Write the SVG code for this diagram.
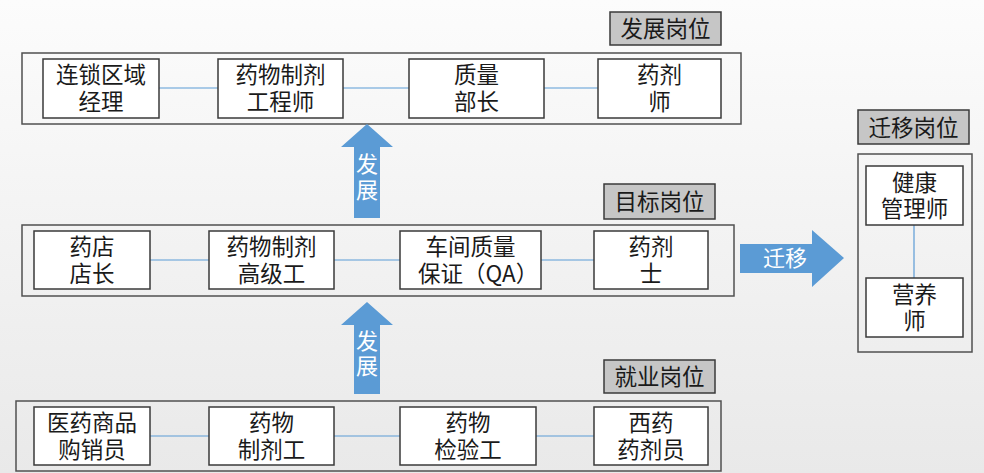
<svg xmlns="http://www.w3.org/2000/svg" width="984" height="473" viewBox="0 0 984 473">
<defs>
<linearGradient id="bg" x1="0" y1="0" x2="0" y2="1">
<stop offset="0" stop-color="#fcfcfc"/>
<stop offset="1" stop-color="#e9e9e9"/>
</linearGradient>
<style>
text{font-family:"Microsoft YaHei","Noto Sans CJK SC","Noto Sans",sans-serif;font-size:22.5px;fill:#1a1a1a;text-anchor:middle}
.box{fill:#ffffff;stroke:#3a3a3a;stroke-width:1.5}
.cont{fill:none;stroke:#505050;stroke-width:1.5}
.lab{fill:#c6c6c6;stroke:#3a3a3a;stroke-width:1.5}
.conn{stroke:#5b9bd5;stroke-width:1.2;fill:none}
.arrow{fill:#5b9bd5}
.at{fill:#ffffff;font-size:22px}
</style>
</defs>
<rect x="0" y="0" width="984" height="473" fill="url(#bg)"/>

<!-- containers and labels -->
<g id="group-fazhan">
<rect class="cont" x="22" y="53" width="719" height="71"/>
<rect class="lab" x="610" y="12" width="111" height="33"/>
<text x="665.5" y="37">发展岗位</text>
</g>
<g id="group-mubiao">
<rect class="cont" x="22" y="225" width="712" height="71"/>
<rect class="lab" x="604" y="184" width="111" height="35"/>
<text x="659.5" y="210">目标岗位</text>
</g>
<g id="group-jiuye">
<rect class="cont" x="16" y="401" width="705" height="70"/>
<rect class="lab" x="604" y="360" width="111" height="33"/>
<text x="659.5" y="385">就业岗位</text>
</g>
<g id="group-qianyi">
<rect class="cont" x="858" y="154" width="114" height="198"/>
<rect class="lab" x="858" y="110" width="111" height="34"/>
<text x="913.5" y="136">迁移岗位</text>
</g>

<!-- connectors -->
<g id="connectors">
<line class="conn" x1="159" y1="88" x2="218" y2="88"/>
<line class="conn" x1="343" y1="88" x2="409" y2="88"/>
<line class="conn" x1="544" y1="88" x2="598" y2="88"/>
<line class="conn" x1="150" y1="260" x2="209" y2="260"/>
<line class="conn" x1="334" y1="260" x2="400" y2="260"/>
<line class="conn" x1="541" y1="260" x2="594" y2="260"/>
<line class="conn" x1="150" y1="436" x2="209" y2="436"/>
<line class="conn" x1="334" y1="436" x2="400" y2="436"/>
<line class="conn" x1="536" y1="436" x2="594" y2="436"/>
<line class="conn" x1="914" y1="225" x2="914" y2="278"/>
<g id="arrow-up-1">
<polygon class="arrow" points="367,124 393,147 380,147 380,218 354,218 354,147 341,147"/>
<text class="at" x="367" y="172">发<tspan x="367" dy="26">展</tspan></text>
</g>
<g id="arrow-up-2">
<polygon class="arrow" points="367,302 393,325 380,325 380,394 354,394 354,325 341,325"/>
<text class="at" x="367" y="349">发<tspan x="367" dy="25">展</tspan></text>
</g>
<g id="arrow-right">
<polygon class="arrow" points="740,244 812,244 812,230 844,258 812,287 812,273 740,273"/>
<text class="at" x="785" y="266">迁移</text>
</g>
</g>

<!-- top row -->
<g id="n-liansuo"><rect class="box" x="43" y="59" width="116" height="59"/><text x="101" y="83">连锁区域<tspan x="101" dy="27">经理</tspan></text></g>
<g id="n-gongchengshi"><rect class="box" x="218" y="59" width="125" height="59"/><text x="280.5" y="83">药物制剂<tspan x="280.5" dy="27">工程师</tspan></text></g>
<g id="n-buzhang"><rect class="box" x="409" y="59" width="135" height="59"/><text x="476.5" y="83">质量<tspan x="476.5" dy="27">部长</tspan></text></g>
<g id="n-yaojishi"><rect class="box" x="598" y="59" width="123" height="59"/><text x="659.5" y="83">药剂<tspan x="659.5" dy="27">师</tspan></text></g>

<!-- middle row -->
<g id="n-dianzhang"><rect class="box" x="34" y="231" width="116" height="58"/><text x="92" y="255">药店<tspan x="92" dy="27">店长</tspan></text></g>
<g id="n-gaojigong"><rect class="box" x="209" y="231" width="125" height="58"/><text x="271.5" y="255">药物制剂<tspan x="271.5" dy="27">高级工</tspan></text></g>
<g id="n-qa"><rect class="box" x="400" y="231" width="141" height="58"/><text x="470.5" y="255">车间质量<tspan x="418" dy="27" style="text-anchor:start">保证（QA）</tspan></text></g>
<g id="n-yaojishi2"><rect class="box" x="594" y="231" width="114" height="58"/><text x="651" y="255">药剂<tspan x="651" dy="27">士</tspan></text></g>

<!-- bottom row -->
<g id="n-gouxiao"><rect class="box" x="34" y="407" width="116" height="58"/><text x="92" y="431">医药商品<tspan x="92" dy="27">购销员</tspan></text></g>
<g id="n-zhijigong"><rect class="box" x="209" y="407" width="125" height="58"/><text x="271.5" y="431">药物<tspan x="271.5" dy="27">制剂工</tspan></text></g>
<g id="n-jianyangong"><rect class="box" x="400" y="407" width="136" height="58"/><text x="468" y="431">药物<tspan x="468" dy="27">检验工</tspan></text></g>
<g id="n-xiyao"><rect class="box" x="594" y="407" width="114" height="58"/><text x="651" y="431">西药<tspan x="651" dy="27">药剂员</tspan></text></g>

<!-- right column -->
<g id="n-jiankang"><rect class="box" x="866" y="166" width="97" height="59"/><text x="914.5" y="191">健康<tspan x="914.5" dy="26">管理师</tspan></text></g>
<g id="n-yingyang"><rect class="box" x="866" y="278" width="97" height="59"/><text x="914.5" y="303">营养<tspan x="914.5" dy="26">师</tspan></text></g>
</svg>
